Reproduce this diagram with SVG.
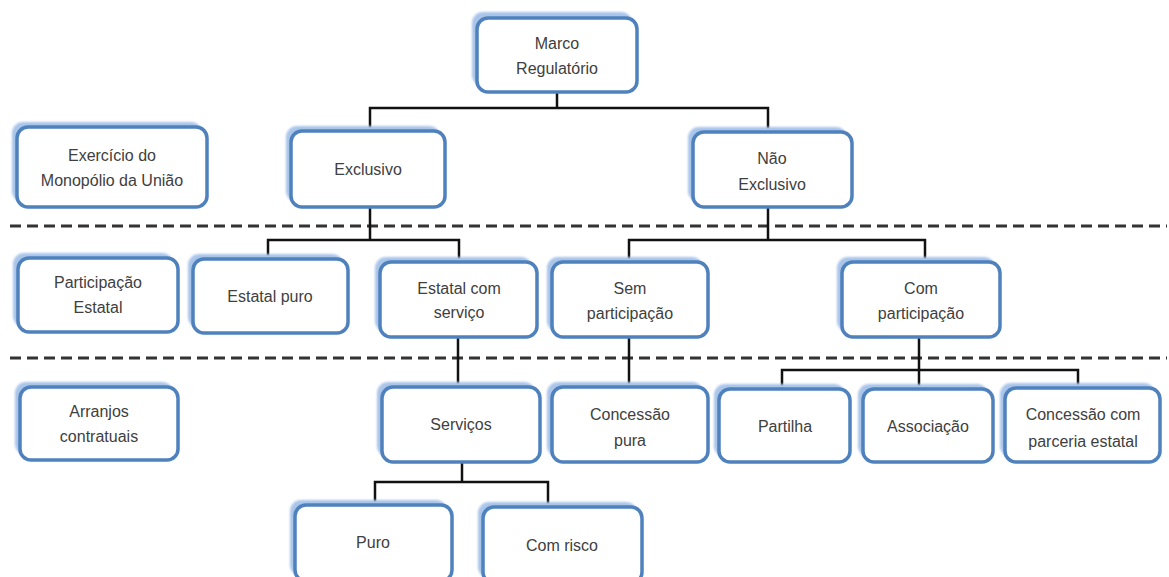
<svg xmlns="http://www.w3.org/2000/svg" width="1169" height="577" viewBox="0 0 1169 577">
<defs>
<filter id="soft" x="-10%" y="-10%" width="120%" height="120%"><feGaussianBlur stdDeviation="0.8"/></filter>
</defs>
<style>
.sh{fill:#a9c5ea;filter:url(#soft)}
.bx{fill:#ffffff;stroke:#4f81bd;stroke-width:3.5}
.t{font-family:"Liberation Sans",Arial,sans-serif;font-size:16px;fill:#404040;text-anchor:middle}
.c{fill:none;stroke:#111;stroke-width:2.5}
.d{stroke:#333;stroke-width:3;stroke-dasharray:11,6}
</style>
<rect width="1169" height="577" fill="#ffffff"/>
<g id="separators">
<line class="d" x1="10" y1="226" x2="1167" y2="226"/>
<line class="d" x1="10" y1="358" x2="1167" y2="358"/>
</g>
<g id="connectors">
<path class="c" d="M557 92V108M370 130V108H768V132"/>
<path class="c" d="M370 207V240M268 258V240H459V262"/>
<path class="c" d="M768 207V240M629 262V240H925V262"/>
<path class="c" d="M458 337V387"/>
<path class="c" d="M629 337V387"/>
<path class="c" d="M919 337V387M782 389V370H1078V388"/>
<path class="c" d="M462 462V482M375 505V482H548V507"/>
</g>
<g id="marco"><rect class="sh" x="472" y="12" width="160" height="74" rx="11"/><rect class="bx" x="477" y="18" width="160" height="74" rx="11"/><text class="t" x="557" y="49">Marco</text><text class="t" x="557" y="74">Regulatório</text></g>
<g id="exercicio"><rect class="sh" x="12" y="122" width="190" height="80" rx="11"/><rect class="bx" x="17" y="127" width="190" height="80" rx="11"/><text class="t" x="112" y="161">Exercício do</text><text class="t" x="112" y="186">Monopólio da União</text></g>
<g id="exclusivo"><rect class="sh" x="286" y="126" width="154" height="76" rx="11"/><rect class="bx" x="291" y="131" width="154" height="76" rx="11"/><text class="t" x="368" y="175">Exclusivo</text></g>
<g id="nao-exclusivo"><rect class="sh" x="688" y="127" width="159" height="75" rx="11"/><rect class="bx" x="693" y="132" width="159" height="75" rx="11"/><text class="t" x="772" y="164">Não</text><text class="t" x="772" y="190">Exclusivo</text></g>
<g id="participacao"><rect class="sh" x="13" y="253" width="160" height="74" rx="11"/><rect class="bx" x="18" y="258" width="160" height="74" rx="11"/><text class="t" x="98" y="288">Participação</text><text class="t" x="98" y="313">Estatal</text></g>
<g id="estatal-puro"><rect class="sh" x="188" y="254" width="155" height="74" rx="11"/><rect class="bx" x="193" y="259" width="155" height="74" rx="11"/><text class="t" x="270" y="302">Estatal puro</text></g>
<g id="estatal-servico"><rect class="sh" x="375" y="257" width="157" height="75" rx="11"/><rect class="bx" x="380" y="262" width="157" height="75" rx="11"/><text class="t" x="459" y="294">Estatal com</text><text class="t" x="459" y="318">serviço</text></g>
<g id="sem-participacao"><rect class="sh" x="547" y="257" width="156" height="75" rx="11"/><rect class="bx" x="552" y="262" width="156" height="75" rx="11"/><text class="t" x="630" y="294">Sem</text><text class="t" x="630" y="319">participação</text></g>
<g id="com-participacao"><rect class="sh" x="837" y="257" width="158" height="75" rx="11"/><rect class="bx" x="842" y="262" width="158" height="75" rx="11"/><text class="t" x="921" y="294">Com</text><text class="t" x="921" y="319">participação</text></g>
<g id="arranjos"><rect class="sh" x="15" y="382" width="158" height="73" rx="11"/><rect class="bx" x="20" y="387" width="158" height="73" rx="11"/><text class="t" x="99" y="417">Arranjos</text><text class="t" x="99" y="442">contratuais</text></g>
<g id="servicos"><rect class="sh" x="377" y="382" width="158" height="75" rx="11"/><rect class="bx" x="382" y="387" width="158" height="75" rx="11"/><text class="t" x="461" y="430">Serviços</text></g>
<g id="concessao-pura"><rect class="sh" x="547" y="382" width="156" height="75" rx="11"/><rect class="bx" x="552" y="387" width="156" height="75" rx="11"/><text class="t" x="630" y="420">Concessão</text><text class="t" x="630" y="446">pura</text></g>
<g id="partilha"><rect class="sh" x="714" y="384" width="131" height="73" rx="11"/><rect class="bx" x="719" y="389" width="131" height="73" rx="11"/><text class="t" x="785" y="432">Partilha</text></g>
<g id="associacao"><rect class="sh" x="858" y="384" width="130" height="73" rx="11"/><rect class="bx" x="863" y="389" width="130" height="73" rx="11"/><text class="t" x="928" y="432">Associação</text></g>
<g id="concessao-parceria"><rect class="sh" x="1000" y="383" width="155" height="74" rx="11"/><rect class="bx" x="1005" y="388" width="155" height="74" rx="11"/><text class="t" x="1083" y="420">Concessão com</text><text class="t" x="1083" y="447">parceria estatal</text></g>
<g id="puro"><rect class="sh" x="290" y="500" width="157" height="76" rx="11"/><rect class="bx" x="295" y="505" width="157" height="76" rx="11"/><text class="t" x="373" y="548">Puro</text></g>
<g id="com-risco"><rect class="sh" x="478" y="502" width="159" height="76" rx="11"/><rect class="bx" x="483" y="507" width="159" height="76" rx="11"/><text class="t" x="562" y="551">Com risco</text></g>
</svg>
